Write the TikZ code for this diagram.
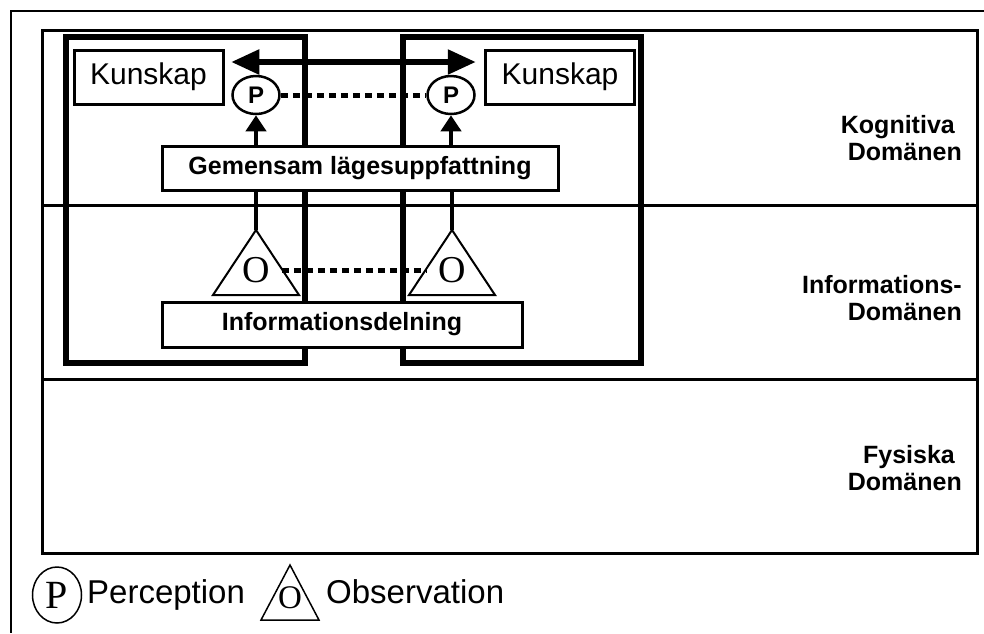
\documentclass[tikz,border=0pt]{standalone}
\usepackage{fontspec}
\setmainfont{Liberation Sans}
\newfontfamily\serifletter{Liberation Serif}
\usetikzlibrary{shapes.geometric, arrows.meta, positioning}

\begin{document}
\begin{tikzpicture}[
    x=1pt, y=-1pt,
    kbox/.style={draw, line width=3pt, minimum width=149pt, minimum height=54pt, inner sep=0pt, font=\fontsize{30}{36}\selectfont},
    bbox/.style={draw, fill=white, line width=3pt, minimum height=44pt, inner sep=0pt, font=\bfseries\fontsize{25}{30}\selectfont},
    pnode/.style={draw, ellipse, fill=white, line width=2.5pt, minimum width=47pt, minimum height=38pt, inner sep=0pt, font=\bfseries\fontsize{24}{28}\selectfont},
    onode/.style={inner xsep=12pt, inner ysep=0pt, font=\serifletter\fontsize{38}{40}\selectfont},
    domlabel/.style={anchor=east, align=right, inner sep=0pt, font=\bfseries\fontsize{25}{27}\selectfont},
    legtext/.style={anchor=base west, inner sep=0pt, font=\fontsize{33}{36}\selectfont},
    agent/.style={line width=6pt},
    tableline/.style={line width=3pt},
    tri/.style={line width=2pt, line join=miter},
    dblarrow/.style={{Triangle[length=28pt, width=24pt]}-{Triangle[length=28pt, width=24pt]}, line width=5.5pt},
    uparrow/.style={-{Triangle[length=16pt, width=20pt]}, line width=4.5pt},
    stem/.style={line width=4.5pt},
    dotline/.style={line width=5pt, dash pattern=on 7pt off 5pt}
]

\useasboundingbox (0,0) rectangle (984,633);

% Frame and domain table
\draw[line width=2.5pt] (984,11) -- (11,11) -- (11,633);
\draw[tableline] (42,30) rectangle (977,553);
\draw[tableline] (42,205) -- (977,205);
\draw[tableline] (42,379) -- (977,379);

% Agents
\draw[agent] (66,37) rectangle (305,363);
\draw[agent] (403,37) rectangle (641,363);

% Nodes
\node[kbox] (kunl) at (148.5,77) {Kunskap};
\node[kbox] (kunr) at (560,77) {Kunskap};
\node[pnode] (percl) at (256,95) {P};
\node[pnode] (percr) at (451,95) {P};
\node[bbox, minimum width=396pt] (gem) at (360,168) {Gemensam lägesuppfattning};
\node[bbox, minimum width=360pt, minimum height=45pt] (info) at (342,324.5) {Informationsdelning};

% Observation triangles
\coordinate (tl) at (256,230);
\coordinate (tr) at (452,230);
\draw[tri] (tl) -- ++(-43,65) -- ++(86,0) -- cycle;
\draw[tri] (tr) -- ++(-43,65) -- ++(86,0) -- cycle;
\node[onode] (obsl) at (256,270) {O};
\node[onode] (obsr) at (452,270) {O};

% Domain labels
\node[domlabel] (kog) at (962,138) {Kognitiva\hspace*{7pt}\\Domänen};
\node[domlabel] (inf) at (962,298) {Informations-\\Domänen};
\node[domlabel] (fys) at (962,468) {Fysiska\hspace*{7pt}\\Domänen};

% Legend
\node[draw, ellipse, line width=1.5pt, minimum width=49pt, minimum height=56pt, inner sep=0pt,
      font=\serifletter\fontsize{40}{44}\selectfont] (legp) at (57,595) {P};
\node[legtext] (perc) at (87,603) {Perception};
\coordinate (lt) at (290,565);
\draw[line width=1.5pt, line join=miter] (lt) -- ++(-29,55) -- ++(58,0) -- cycle;
\node[inner sep=0pt, font=\serifletter\fontsize{33}{36}\selectfont] (lego) at (290,598) {O};
\node[legtext] (obs) at (326,603) {Observation};

% Arrows
\draw[dblarrow] ([yshift=33pt]percl.west) -- ([yshift=33pt]percr.east);
\draw[uparrow] (percl |- gem.north) -- (percl.south);
\draw[uparrow] (percr |- gem.north) -- (percr.south);
\draw[stem] (tl) -- (tl |- gem.south);
\draw[stem] (tr) -- (tr |- gem.south);
\draw[dotline] (percl) -- (percr);
\draw[dotline] (obsl) -- (obsr);

\end{tikzpicture}
\end{document}
